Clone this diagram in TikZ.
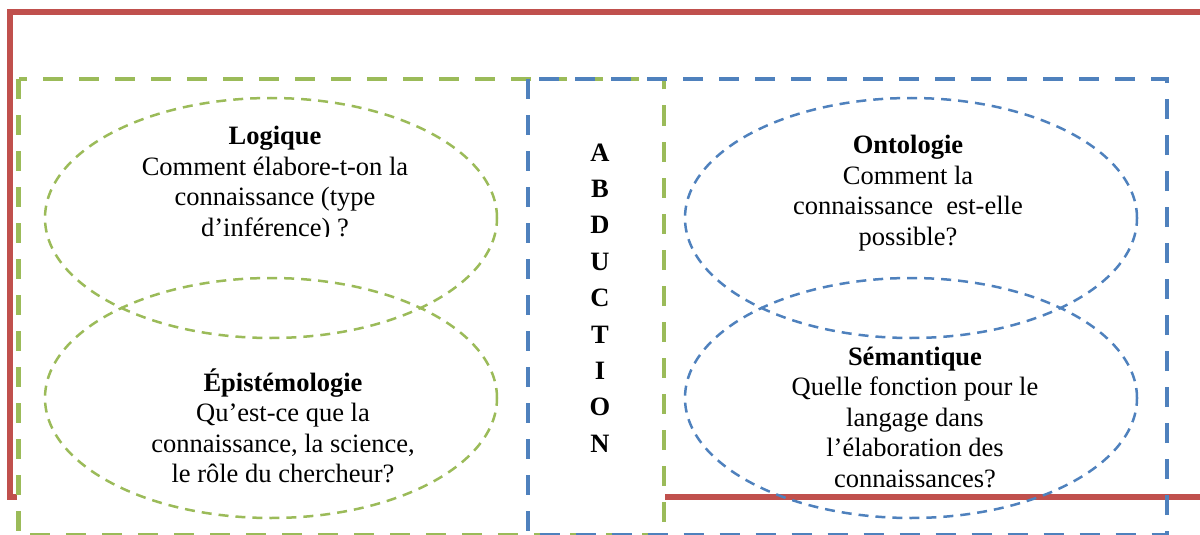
\documentclass[tikz,border=0pt]{standalone}
\usepackage{fontspec}
\setmainfont{Liberation Serif}
\usetikzlibrary{shapes.geometric}
\definecolor{redc}{HTML}{C0504D}
\definecolor{greenc}{HTML}{9BBB59}
\definecolor{bluec}{HTML}{4F81BD}
\tikzset{
  redline/.style={draw=redc, line width=6pt},
  framebox/.style={line width=4.5pt, dash pattern=on 20pt off 16pt},
  circ/.style={draw, ellipse, line width=2.5pt, dash pattern=on 10pt off 7pt, minimum width=452pt, minimum height=240pt, inner sep=0pt},
  txt/.style={align=center, font=\fontsize{26.5}{30.5}\selectfont, inner sep=0pt},
}
\begin{document}
\begin{tikzpicture}[x=1pt,y=-1pt]
\useasboundingbox (0,0) rectangle (1200,535);
% red frame
\coordinate (r1) at (17,497);
\coordinate (r2) at (10,497);
\coordinate (r3) at (10,12);
\coordinate (r4) at (1203,12);
\coordinate (r5) at (665,497);
\coordinate (r6) at (1203,497);
\draw[redline] (r1) -- (r2) -- (r3) -- (r4);
\draw[redline] (r5) -- (r6);
% dashed frames
\draw[framebox, draw=greenc] (18.5,79) rectangle (664,535.5);
\draw[framebox, draw=bluec] (528,79) rectangle (1167,535.5);
% ellipses
\node[circ, draw=greenc] (e1) at (271,218) {};
\node[circ, draw=greenc] (e2) at (271,398) {};
\node[circ, draw=bluec] (e3) at (911,218) {};
\node[circ, draw=bluec] (e4) at (911,398) {};
% texts
\begin{scope}
\clip (0,0) rectangle (1200,236.5);
\node[txt] (logique) at (275,184) {\textbf{Logique}\\Comment élabore-t-on la\\connaissance (type\\d’inférence) ?};
\end{scope}
\node[txt] (episte) at (283,426) {\textbf{Épistémologie}\\Qu’est-ce que la\\connaissance, la science,\\le rôle du chercheur?};
\node[txt] (onto) at (908,193) {\textbf{Ontologie}\\Comment la\\connaissance\ \ est-elle\\possible?};
\node[txt] (sema) at (915,417) {\textbf{Sémantique}\\Quelle fonction pour le\\langage dans\\l’élaboration des\\connaissances?};
\node[align=center, inner sep=0pt, font=\fontsize{26.5}{36.4}\selectfont\bfseries] (abd) at (600,298) {A\\B\\D\\U\\C\\T\\I\\O\\N};
\end{tikzpicture}
\end{document}
